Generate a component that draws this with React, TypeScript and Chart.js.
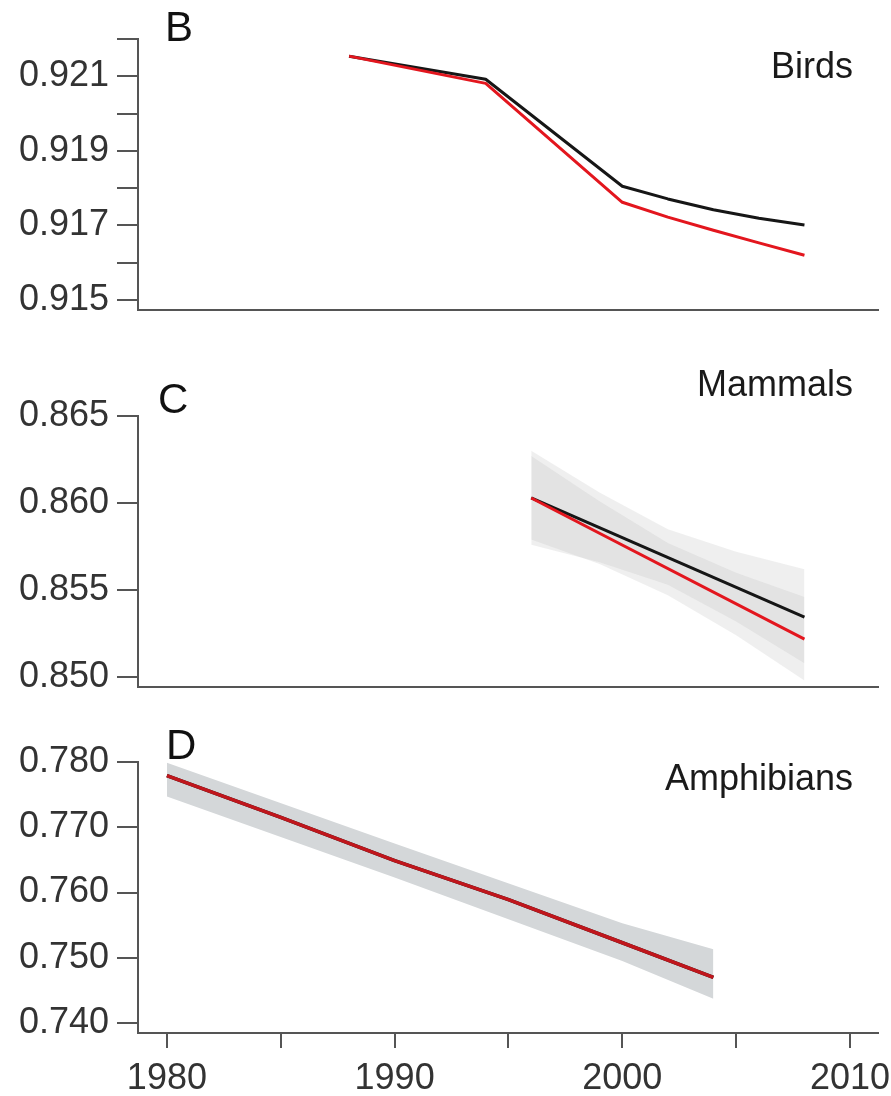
import React, { useEffect, useRef } from "react";
import { Chart, registerables } from "chart.js";

Chart.register(...registerables);

const FONT = "'Liberation Sans', Arial, Helvetica, sans-serif";
const AXIS = "#555555";
const TEXT = "#333333";
const BLACK = "#161616";
const RED = "#e3161e";
const DARK_RED = "#c0161c";

// shared x axis
const xTicks = [1980, 1985, 1990, 1995, 2000, 2005, 2010];
const xTickLabels = ["1980", "", "1990", "", "2000", "", "2010"];
const xRange = [1978.73, 2011.23];

// B: Birds
const birdYears = [1988, 1994, 2000, 2002, 2004, 2006, 2008];
const birdsBlack = [0.92154, 0.92092, 0.91805, 0.91771, 0.91742, 0.91719, 0.91701];
const birdsRed = [0.92154, 0.92081, 0.91762, 0.91722, 0.91687, 0.91653, 0.9162];
const birdsTicks = [0.915, 0.916, 0.917, 0.918, 0.919, 0.92, 0.921, 0.922];
const birdsTickLabels = ["0.915", "", "0.917", "", "0.919", "", "0.921", ""];
const birdsRange = [0.91473, 0.922];

// C: Mammals
const mammalYears = [1996, 2008];
const mammalsBlack = [0.86029, 0.85345];
const mammalsRed = [0.86029, 0.85218];
const mammalBandYears = [1996, 1999, 2002, 2005, 2008];
const mammalsBlackUpper = [0.863, 0.8606, 0.8585, 0.8572, 0.8562];
const mammalsBlackLower = [0.8576, 0.8566, 0.8553, 0.8532, 0.8508];
const mammalsRedUpper = [0.8627, 0.8601, 0.8577, 0.856, 0.8546];
const mammalsRedLower = [0.8579, 0.8565, 0.8547, 0.8524, 0.8498];
const mammalsTicks = [0.85, 0.855, 0.86, 0.865];
const mammalsTickLabels = ["0.850", "0.855", "0.860", "0.865"];
const mammalsRange = [0.84943, 0.865];

// D: Amphibians
const amphYears = [1980, 1985, 1990, 1995, 2000, 2004];
const amphBlack = [0.7779, 0.7715, 0.7649, 0.7589, 0.7523, 0.747];
const amphRed = [0.7779, 0.7715, 0.7649, 0.7589, 0.7523, 0.747];
const amphBandYears = [1980, 1990, 2000, 2004];
const amphUpper = [0.7799, 0.7675, 0.7553, 0.7513];
const amphLower = [0.7747, 0.7623, 0.7495, 0.7437];
const amphTicks = [0.74, 0.75, 0.76, 0.77, 0.78];
const amphTickLabels = ["0.740", "0.750", "0.760", "0.770", "0.780"];
const amphRange = [0.73847, 0.78];

const pts = (xs: number[], ys: number[]) => xs.map((x, i) => ({ x, y: ys[i] }));

function lineDs(xs: number[], ys: number[], color: string, width = 3) {
  return {
    data: pts(xs, ys),
    borderColor: color,
    borderWidth: width,
    pointRadius: 0,
    fill: false,
    tension: 0,
    borderCapStyle: "butt",
    borderJoinStyle: "round",
  };
}

function bandDs(xs: number[], upper: number[], lower: number[], color: string) {
  return [
    {
      data: pts(xs, upper),
      borderWidth: 0,
      borderColor: "rgba(0,0,0,0)",
      pointRadius: 0,
      fill: false,
      tension: 0,
    },
    {
      data: pts(xs, lower),
      borderWidth: 0,
      borderColor: "rgba(0,0,0,0)",
      pointRadius: 0,
      fill: "-1",
      backgroundColor: color,
      tension: 0,
    },
  ];
}

function yScale(range: number[], ticks: number[], labels: string[]) {
  return {
    type: "linear",
    position: "left",
    min: range[0],
    max: range[1],
    afterBuildTicks: (s: any) => {
      s.ticks = ticks.map((v) => ({ value: v }));
    },
    afterFit: (s: any) => {
      s.width = 138;
      s.paddingTop = 0;
      s.paddingBottom = 0;
    },
    ticks: {
      autoSkip: false,
      padding: 8,
      color: TEXT,
      font: { family: FONT, size: 36 },
      callback: (_v: any, i: number) => labels[i],
    },
    grid: { drawOnChartArea: false, drawTicks: true, tickLength: 21, color: AXIS, lineWidth: 2 },
    border: { display: true, color: AXIS, width: 2 },
  };
}

function xScale(show: boolean) {
  return {
    type: "linear",
    position: "bottom",
    min: xRange[0],
    max: xRange[1],
    afterBuildTicks: (s: any) => {
      s.ticks = xTicks.map((v) => ({ value: v }));
    },
    afterFit: (s: any) => {
      s.height = show ? 63 : 0;
      s.paddingLeft = 0;
      s.paddingRight = 0;
    },
    ticks: {
      display: show,
      autoSkip: false,
      maxRotation: 0,
      minRotation: 0,
      padding: 9,
      color: TEXT,
      font: { family: FONT, size: 36 },
      callback: (_v: any, i: number) => xTickLabels[i],
    },
    grid: { drawOnChartArea: false, drawTicks: show, tickLength: 15, color: AXIS, lineWidth: 2 },
    border: { display: true, color: AXIS, width: 2 },
  };
}

function makeConfig(datasets: any[], y: any, showX: boolean, padding: any) {
  return {
    type: "line",
    data: { datasets },
    options: {
      responsive: false,
      animation: false,
      events: [],
      layout: { padding },
      plugins: { legend: { display: false }, tooltip: { enabled: false } },
      scales: { x: xScale(showX), y },
    },
  } as any;
}

const buildBirds = () =>
  makeConfig(
    [lineDs(birdYears, birdsRed, RED), lineDs(birdYears, birdsBlack, BLACK)],
    yScale(birdsRange, birdsTicks, birdsTickLabels),
    false,
    { top: 39, bottom: 20, left: 0, right: 13 }
  );

const buildMammals = () =>
  makeConfig(
    [
      lineDs(mammalYears, mammalsRed, RED),
      lineDs(mammalYears, mammalsBlack, BLACK),
      ...bandDs(mammalBandYears, mammalsBlackUpper, mammalsBlackLower, "rgba(190,190,190,0.24)"),
      ...bandDs(mammalBandYears, mammalsRedUpper, mammalsRedLower, "rgba(190,190,190,0.24)"),
    ],
    yScale(mammalsRange, mammalsTicks, mammalsTickLabels),
    false,
    { top: 86, bottom: 23, left: 0, right: 13 }
  );

const buildAmph = () =>
  makeConfig(
    [
      lineDs(amphYears, amphRed, DARK_RED, 3.5),
      lineDs(amphYears, amphBlack, BLACK, 3.5),
      ...bandDs(amphBandYears, amphUpper, amphLower, "rgba(212,215,217,1)"),
    ],
    yScale(amphRange, amphTicks, amphTickLabels),
    true,
    { top: 52, bottom: 0, left: 0, right: 13 }
  );

function Panel({ top, height, build }: { top: number; height: number; build: () => any }) {
  const ref = useRef<HTMLCanvasElement>(null);
  useEffect(() => {
    const chart = new Chart(ref.current as HTMLCanvasElement, build());
    return () => chart.destroy();
  }, []);
  return (
    <canvas
      ref={ref}
      width={891}
      height={height}
      style={{ position: "absolute", left: 0, top, width: 891, height }}
    />
  );
}

function Label({ text, left, right, baseline, size, color }: any) {
  const style: any = {
    position: "absolute",
    top: baseline - 0.8465 * size,
    fontFamily: FONT,
    fontSize: size,
    lineHeight: `${size}px`,
    color,
    whiteSpace: "nowrap",
  };
  if (left !== undefined) style.left = left;
  if (right !== undefined) style.right = right;
  return <div style={style}>{text}</div>;
}

export default function App() {
  return (
    <div
      style={{
        position: "absolute",
        left: 0,
        top: 0,
        width: 891,
        height: 1096,
        overflow: "hidden",
        background: "#ffffff",
      }}
    >
      <Panel top={0} height={330} build={buildBirds} />
      <Panel top={330} height={380} build={buildMammals} />
      <Panel top={710} height={386} build={buildAmph} />
      <Label text="B" left={165} baseline={42} size={42} color="#111" />
      <Label text="C" left={158} baseline={414} size={42} color="#111" />
      <Label text="D" left={166} baseline={760} size={42} color="#111" />
      <Label text="Birds" right={38} baseline={78} size={36} color="#1a1a1a" />
      <Label text="Mammals" right={38} baseline={396} size={36} color="#1a1a1a" />
      <Label text="Amphibians" right={38} baseline={790} size={36} color="#1a1a1a" />
    </div>
  );
}
